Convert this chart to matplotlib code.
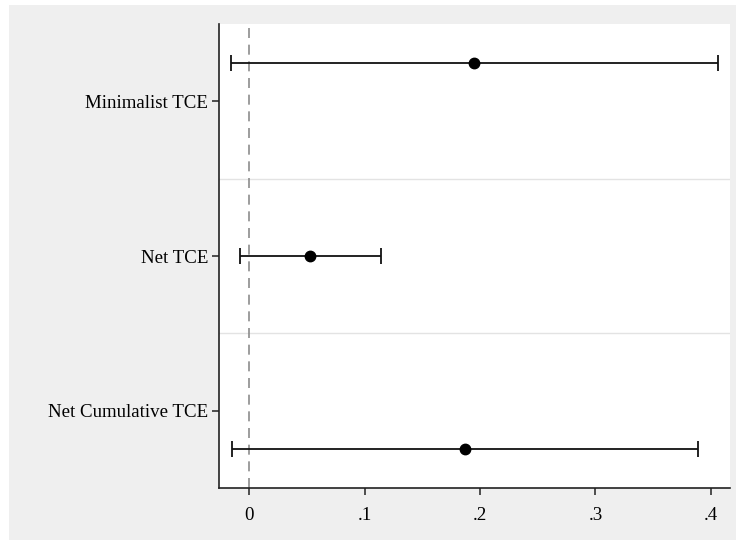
import matplotlib.pyplot as plt
from matplotlib.patches import Rectangle

labels = ["Minimalist TCE", "Net TCE", "Net Cumulative TCE"]
label_pos = [1, 2, 3]
point_pos = [0.75, 2.0, 3.25]
estimates = [0.195, 0.053, 0.187]
ci_low = [-0.0155, -0.008, -0.0147]
ci_high = [0.406, 0.114, 0.389]
xticks = [0, 0.1, 0.2, 0.3, 0.4]
xticklabels = ["0", ".1", ".2", ".3", ".4"]

plt.rcParams["font.family"] = ["Liberation Serif", "DejaVu Serif"]

fig = plt.figure(figsize=(7.36, 5.4), dpi=100, facecolor="white")
fig.patches.append(Rectangle((9 / 736, 0), 1, 1 - 5 / 540, transform=fig.transFigure,
                             facecolor="#efefef", edgecolor="none", zorder=-10))
ax = fig.add_axes([219 / 736, 1 - 488 / 540, (730 - 219) / 736, (488 - 24) / 540])
ax.set_facecolor("white")

err_lo = [e - l for e, l in zip(estimates, ci_low)]
err_hi = [h - e for e, h in zip(estimates, ci_high)]
ax.errorbar(estimates, point_pos, xerr=[err_lo, err_hi], fmt="o", color="black",
            ecolor="#111111", elinewidth=1.3, capsize=5.5, capthick=1.3,
            markersize=7.5, zorder=3)

ax.axvline(0, color="#8c8c8c", linestyle=(0, (6, 4)), linewidth=1.2, zorder=2)
for g in [1.5, 2.5]:
    ax.axhline(g, color="#e3e3e3", linewidth=1.0, zorder=1)

ax.set_xlim(-0.026, 0.4165)
ax.set_ylim(3.5, 0.5)
ax.set_yticks(label_pos)
ax.set_yticklabels(labels, fontsize=13.6)
ax.set_xticks(xticks)
ax.set_xticklabels(xticklabels, fontsize=13.6)

for side in ["top", "right"]:
    ax.spines[side].set_visible(False)
for side in ["left", "bottom"]:
    ax.spines[side].set_color("#222222")
    ax.spines[side].set_linewidth(1.2)
ax.tick_params(axis="both", length=5, width=1.1, color="#222222", pad=3)
ax.tick_params(axis="x", pad=9)

fig.savefig("out.png", dpi=100, facecolor=fig.get_facecolor())
